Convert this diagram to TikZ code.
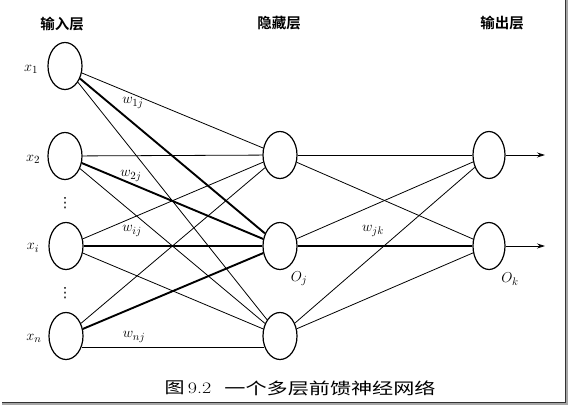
\documentclass[tikz,border=0pt]{standalone}
\usepackage{fontspec}
\newfontfamily\cjk{Noto Sans CJK SC}
\newfontfamily\cjkb{Noto Sans CJK SC Bold}
\newfontfamily\symfont{DejaVu Sans}
\usetikzlibrary{arrows.meta,shapes.geometric}
\begin{document}
\begin{tikzpicture}[x=1pt,y=-1pt,
  neuron/.style={draw,ellipse,line width=1.2pt,minimum width=34pt,minimum height=47pt,inner sep=0pt},
  conn/.style={line width=0.8pt},
  boldconn/.style={line width=1.9pt},
  lbl/.style={font=\fontsize{15.5}{15.5}\selectfont,inner sep=0pt},
  dotlbl/.style={font=\symfont\fontsize{14}{14}\selectfont,inner sep=0pt},
  title/.style={font=\cjkb\fontsize{14.5}{14.5}\selectfont,inner sep=0pt},
  outarrow/.style={line width=0.8pt,-{Stealth[length=8pt,width=5pt]}}]
\useasboundingbox (0,0) rectangle (570,407);
% shadow frame
\fill[gray!70] (565,0) rectangle (568,405);
\fill[gray!70] (2,402) rectangle (568,405);
\draw[gray!40!black,line width=0.6pt] (565,0) -- (565,402) -- (2,402);
% titles
\node[title] (t1) at (62,24) {输入层};
\node[title] (t2) at (279,23) {隐藏层};
\node[title] (t3) at (502,23) {输出层};
% neurons
\node[neuron] (i1) at (65,66) {};
\node[neuron] (i2) at (65,156) {};
\node[neuron] (ii) at (66,246) {};
\node[neuron] (in) at (66,336) {};
\node[neuron] (h1) at (280,155) {};
\node[neuron] (h2) at (280,246) {};
\node[neuron] (h3) at (280,336) {};
\node[neuron,minimum width=32pt] (o1) at (489,155) {};
\node[neuron,minimum width=32pt] (o2) at (489,246) {};
\coordinate (e1) at (545,155);
\coordinate (e2) at (545,246);
% input -> hidden
\draw[conn] (i1) -- (h1);
\draw[boldconn] (i1) -- (h2);
\draw[conn] (i1) -- (h3);
\draw[conn] (i2) -- (h1);
\draw[boldconn] (i2) -- (h2);
\draw[conn] (i2) -- (h3);
\draw[conn] (ii) -- (h1);
\draw[boldconn] (ii) -- (h2);
\draw[conn] (ii) -- (h3);
\draw[conn] (in) -- (h1);
\draw[boldconn] (in) -- (h2);
\draw[conn] (in.-35) -- (h3.215);
% hidden -> output
\draw[conn] (h1) -- (o1);
\draw[conn] (h1) -- (o2);
\draw[conn] (h2) -- (o1);
\draw[boldconn] (h2) -- (o2);
\draw[conn] (h3) -- (o1);
\draw[conn] (h3) -- (o2);
\draw[outarrow] (o1) -- (e1);
\draw[outarrow] (o2) -- (e2);
% labels
\node[lbl] (lx1) at (31,69) {$x_1$};
\node[lbl] (lx2) at (33,159) {$x_2$};
\node[lbl] (lxi) at (33,248) {$x_i$};
\node[lbl] (lxn) at (34,338) {$x_n$};
\node[dotlbl] (d1) at (65,203) {⋮};
\node[dotlbl] (d2) at (65,293) {⋮};
\node[lbl] (w1) at (133,103) {$w_{1j}$};
\node[lbl] (w2) at (131,176) {$w_{2j}$};
\node[lbl] (wi) at (132,231) {$w_{ij}$};
\node[lbl] (wn) at (134,337) {$w_{nj}$};
\node[lbl] (wjk) at (373,231) {$w_{jk}$};
\node[lbl] (oj) at (299,279) {$O_j$};
\node[lbl] (ok) at (510,279) {$O_k$};
% caption
\node[inner sep=0pt,font=\fontsize{16}{16}\selectfont] (cap1) at (188,388) {\scalebox{1.25}[1]{{\cjk 图}\,9.2}};
\node[inner sep=0pt,font=\cjk\fontsize{16}{16}\selectfont] (cap2) at (330,388) {\scalebox{1.32}[1]{一个多层前馈神经网络}};
\end{tikzpicture}
\end{document}
